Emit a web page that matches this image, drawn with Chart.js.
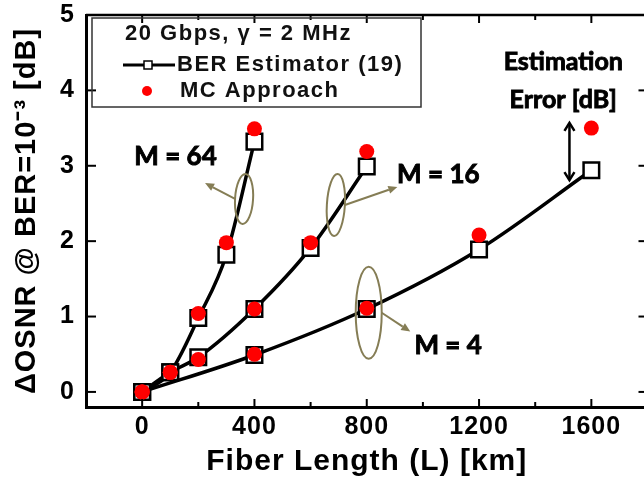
<!DOCTYPE html>
<html><head><meta charset="utf-8">
<script src="https://cdn.jsdelivr.net/npm/chart.js@4/dist/chart.umd.min.js"></script>
<style>html,body{margin:0;padding:0;background:#fff;overflow:hidden;}#wrap{width:661px;height:482px;}</style>
</head><body><div id="wrap"><canvas id="c" width="661" height="482"></canvas></div>
<script>
// ---- data ----
const xTickValues = [0, 400, 800, 1200, 1600];
const xMinorTicks = [200, 600, 1000, 1400];
const yTickValues = [0, 1, 2, 3, 4, 5];

const m64X   = [0, 100, 200, 300, 400];
const m64Est = [0, 0.26, 0.98, 1.82, 3.32];
const m64MC  = [0, 0.26, 1.04, 1.98, 3.49];

const m16X   = [0, 100, 200, 400, 600, 800];
const m16Est = [0, 0.26, 0.46, 1.10, 1.91, 2.99];
const m16MC  = [0, 0.26, 0.43, 1.10, 1.98, 3.19];

const m4X    = [0, 400, 800, 1200, 1600];
const m4Est  = [0, 0.49, 1.10, 1.89, 2.94];
const m4MC   = [0, 0.50, 1.11, 2.08, 3.50];

const legendTitle = '20 Gbps, \u03B3 = 2 MHz';
const legendEst = 'BER Estimator (19)';
const legendMC = 'MC Approach';

// annotation anchors in data units
const groupLabels = [
  {text: 'M = 64', x: 119, y: 3.12, ex: 363, ey: 2.56, rx: 9, ry: 25, rot: 0.06, ax: 224, ay: 2.77, side: -1},
  {text: 'M = 16', x: 1055, y: 2.88, ex: 690, ey: 2.48, rx: 9, ry: 31, rot: 0.06, ax: 909, ay: 2.72, side: 1},
  {text: 'M = 4', x: 1090, y: 0.62, ex: 807, ey: 1.05, rx: 13, ry: 46, rot: 0, ax: 955, ay: 0.80, side: 1}
];
const errLabel = {lines: ['Estimation', 'Error [dB]'], x: 1500, y: [4.38, 3.87], ax: 1522, ay1: 3.57, ay2: 2.81};

const pts = (xs, ys) => xs.map((v, i) => ({x: v, y: ys[i]}));
const AR = "'Liberation Sans', Arial, sans-serif";
const CAL = "Lato, 'Open Sans', sans-serif";

const mcStyle = {showLine: false, pointStyle: 'circle', pointRadius: 7.5, pointBackgroundColor: '#ff0000', pointBorderColor: '#ff0000', pointBorderWidth: 0};
const estStyle = {showLine: true, borderColor: '#000', borderWidth: 3.5, cubicInterpolationMode: 'monotone', pointStyle: 'rect', pointRadius: 11, pointBackgroundColor: '#fff', pointBorderColor: '#000', pointBorderWidth: 2.5, fill: false};

const annotate = {
  id: 'annotate',
  beforeDraw(chart) { chart.ctx.letterSpacing = '1px'; },
  afterDraw(chart) {
    const {ctx, chartArea: ca, scales: {x, y}} = chart;
    const X = v => x.getPixelForValue(v), Y = v => y.getPixelForValue(v);
    const seg = (a, b, c, d) => { ctx.beginPath(); ctx.moveTo(a, b); ctx.lineTo(c, d); ctx.stroke(); };
    const heavy = (t, px, py) => { ctx.fillText(t, px, py); ctx.strokeText(t, px, py); };
    ctx.save();
    ctx.letterSpacing = '0px';
    ctx.strokeStyle = '#000';
    ctx.lineWidth = 2.5;
    ctx.beginPath(); ctx.moveTo(ca.left, ca.top); ctx.lineTo(ca.right, ca.top); ctx.lineTo(ca.right, ca.bottom); ctx.stroke();
    ctx.lineWidth = 2;
    xTickValues.forEach(v => { const p = X(v); seg(p, ca.bottom, p, ca.bottom - 8); seg(p, ca.top, p, ca.top + 8); });
    xMinorTicks.forEach(v => { const p = X(v); seg(p, ca.bottom, p, ca.bottom - 5); seg(p, ca.top, p, ca.top + 5); });
    yTickValues.forEach(v => { const p = Y(v); seg(ca.left, p, ca.left + 10, p); seg(ca.right, p, ca.right - 9, p); });

    // legend box
    const lx = ca.left + 6, ly = ca.top + 3;
    ctx.strokeStyle = '#333'; ctx.lineWidth = 1.5;
    ctx.strokeRect(lx, ly, 329, 89);
    ctx.fillStyle = '#111';
    ctx.font = `bold 22px ${AR}`;
    ctx.letterSpacing = '1.5px';
    ctx.textBaseline = 'middle'; ctx.textAlign = 'left';
    ctx.fillText(legendTitle, lx + 33, ly + 16);
    ctx.fillText(legendEst, lx + 85, ly + 47);
    ctx.fillText(legendMC, lx + 88, ly + 73);
    ctx.strokeStyle = '#000'; ctx.lineWidth = 3;
    seg(lx + 31, ly + 47, lx + 83, ly + 47);
    ctx.fillStyle = '#fff'; ctx.lineWidth = 1.5;
    ctx.fillRect(lx + 52, ly + 43, 8, 8); ctx.strokeRect(lx + 52, ly + 43, 8, 8);
    ctx.fillStyle = '#ff0000';
    ctx.beginPath(); ctx.arc(lx + 55, ly + 73, 5, 0, Math.PI * 2); ctx.fill();

    // group ellipses + arrows
    const olive = '#857d55';
    groupLabels.forEach(g => {
      const cx = X(g.ex), cy = Y(g.ey);
      ctx.strokeStyle = olive; ctx.fillStyle = olive; ctx.lineWidth = 2;
      ctx.beginPath(); ctx.ellipse(cx, cy, g.rx, g.ry, g.rot, 0, Math.PI * 2); ctx.stroke();
      const sx = cx + g.side * g.rx, sy = cy;
      const tx = X(g.ax), ty = Y(g.ay);
      const ang = Math.atan2(ty - sy, tx - sx);
      const hl = 9;
      const bx = tx - hl * Math.cos(ang), by = ty - hl * Math.sin(ang);
      seg(sx, sy, bx, by);
      ctx.beginPath();
      ctx.moveTo(tx, ty);
      ctx.lineTo(bx + 4 * Math.sin(ang), by - 4 * Math.cos(ang));
      ctx.lineTo(bx - 4 * Math.sin(ang), by + 4 * Math.cos(ang));
      ctx.closePath(); ctx.fill();
      ctx.fillStyle = '#000'; ctx.strokeStyle = '#000'; ctx.lineWidth = 0.9;
      ctx.font = `bold 26px ${CAL}`;
      ctx.textAlign = 'center'; ctx.textBaseline = 'middle'; ctx.letterSpacing = '0px';
      heavy(g.text, X(g.x), Y(g.y));
    });

    // estimation error label + double arrow
    ctx.fillStyle = '#000'; ctx.strokeStyle = '#000'; ctx.lineWidth = 0.9;
    ctx.font = `bold 25px ${CAL}`;
    errLabel.lines.forEach((t, i) => heavy(t, X(errLabel.x), Y(errLabel.y[i])));
    const axp = X(errLabel.ax), y1 = Y(errLabel.ay1), y2 = Y(errLabel.ay2);
    ctx.lineWidth = 2.5;
    seg(axp, y1 + 1, axp, y2 - 1);
    ctx.beginPath(); ctx.moveTo(axp - 5, y1 + 8); ctx.lineTo(axp, y1); ctx.lineTo(axp + 5, y1 + 8); ctx.stroke();
    ctx.beginPath(); ctx.moveTo(axp - 5, y2 - 8); ctx.lineTo(axp, y2); ctx.lineTo(axp + 5, y2 - 8); ctx.stroke();
    ctx.restore();
  }
};

new Chart(document.getElementById('c'), {
  type: 'scatter',
  data: {
    datasets: [
      Object.assign({label: 'MC M=64', data: pts(m64X, m64MC)}, mcStyle),
      Object.assign({label: 'MC M=16', data: pts(m16X, m16MC)}, mcStyle),
      Object.assign({label: 'MC M=4', data: pts(m4X, m4MC)}, mcStyle),
      Object.assign({label: 'Est M=64', data: pts(m64X, m64Est)}, estStyle),
      Object.assign({label: 'Est M=16', data: pts(m16X, m16Est)}, estStyle),
      Object.assign({label: 'Est M=4', data: pts(m4X, m4Est)}, estStyle)
    ]
  },
  options: {
    responsive: false,
    animation: false,
    layout: {padding: {top: 15, right: 3, left: 0, bottom: 0}},
    plugins: {legend: {display: false}, tooltip: {enabled: false}},
    scales: {
      x: {
        type: 'linear', position: 'bottom', min: -200, max: 1800,
        afterBuildTicks: s => { s.ticks = xTickValues.map(v => ({value: v})); },
        afterFit: s => { s.height = 75; s.paddingLeft = 0; s.paddingRight = 0; },
        grid: {display: false, drawTicks: false},
        border: {display: true, color: '#000', width: 3},
        ticks: {color: '#000', padding: 5, maxRotation: 0, autoSkip: false, callback: v => String(v), font: {family: AR, size: 25, weight: 'bold'}},
        title: {display: true, text: 'Fiber Length (L) [km]', color: '#000', padding: {top: 0, bottom: 2}, font: {family: AR, size: 30, weight: 'bold'}}
      },
      y: {
        type: 'linear', position: 'left', min: -0.2, max: 5,
        afterBuildTicks: s => { s.ticks = yTickValues.map(v => ({value: v})); },
        afterFit: s => { s.width = 86; s.paddingTop = 0; s.paddingBottom = 0; },
        grid: {display: false, drawTicks: false},
        border: {display: true, color: '#000', width: 3},
        ticks: {color: '#000', padding: 11, autoSkip: false, callback: v => String(v), font: {family: AR, size: 25, weight: 'bold'}},
        title: {display: true, text: '\u0394OSNR @ BER=10\u207B\u00B3 [dB]', color: '#000', padding: {top: 10, bottom: 0}, font: {family: AR, size: 29, weight: 'bold'}}
      }
    }
  },
  plugins: [annotate]
});
</script></body></html>
